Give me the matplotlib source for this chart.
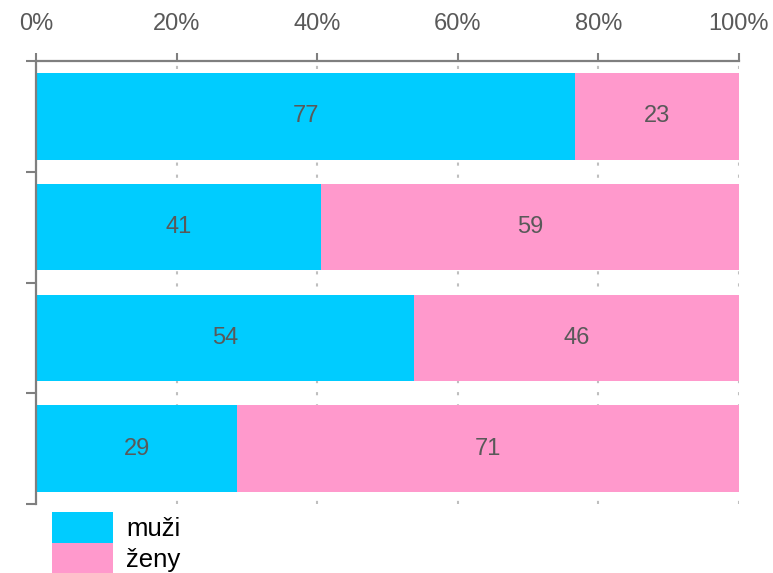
import numpy as np
import matplotlib.pyplot as plt

plt.rcParams['font.family'] = ['Liberation Sans', 'DejaVu Sans']

# data (percent), top bar first; bar lengths as read, labels as printed
muzi = [76.7, 40.5, 53.8, 28.6]
zeny = [23.3, 59.5, 46.2, 71.4]
muzi_labels = ['77', '41', '54', '29']
zeny_labels = ['23', '59', '46', '71']
series_names = ['muži', 'ženy']
x_ticks = [0, 20, 40, 60, 80, 100]

blue = '#00CCFF'
pink = '#FF99CC'
txt = '#595959'
axis_col = '#7f7f7f'

fig = plt.figure(figsize=(7.73, 5.73), dpi=100)
ax = fig.add_axes([36 / 773, 1 - 504 / 573, 703 / 773, 443 / 573])

y = np.arange(len(muzi))
b1 = ax.barh(y, muzi, height=0.78, color=blue, label=series_names[0], zorder=2)
b2 = ax.barh(y, zeny, left=muzi, height=0.78, color=pink, label=series_names[1], zorder=2)

for i in range(len(muzi)):
    ax.text(muzi[i] / 2, y[i], muzi_labels[i], ha='center', va='center',
            fontsize=17, color=txt, zorder=3)
    ax.text(muzi[i] + zeny[i] / 2, y[i], zeny_labels[i], ha='center', va='center',
            fontsize=17, color=txt, zorder=3)

ax.set_xlim(0, 100)
ax.set_ylim(len(muzi) - 0.5, -0.5)

ax.xaxis.tick_top()
ax.set_xticks(x_ticks)
ax.set_xticklabels([f'{v}%' for v in x_ticks])
ax.tick_params(axis='x', direction='out', length=6, width=1.5, color=axis_col,
               labelsize=17, labelcolor=txt, pad=12.5)
ax.set_yticks(np.arange(len(muzi) + 1) - 0.5)
ax.set_yticklabels([])
ax.tick_params(axis='y', direction='out', length=7, width=1.5, color=axis_col)

for s in ['right', 'bottom']:
    ax.spines[s].set_visible(False)
for s in ['top', 'left']:
    ax.spines[s].set_color(axis_col)
    ax.spines[s].set_linewidth(1.6)

ax.grid(axis='x', color='#bfbfbf', linewidth=1.5, linestyle=(0, (1.5, 4.3)), zorder=1)
ax.set_axisbelow(True)

fig.legend(handles=[b1, b2], labels=series_names, loc='upper left',
           bbox_to_anchor=(52 / 773, 1 - 512 / 573), bbox_transform=fig.transFigure,
           frameon=False, fontsize=18.5, handlelength=2.38, handleheight=1.48,
           handletextpad=0.5, labelspacing=0, borderpad=0, borderaxespad=0,
           labelcolor='#000000')

fig.savefig('out.png', dpi=100)
